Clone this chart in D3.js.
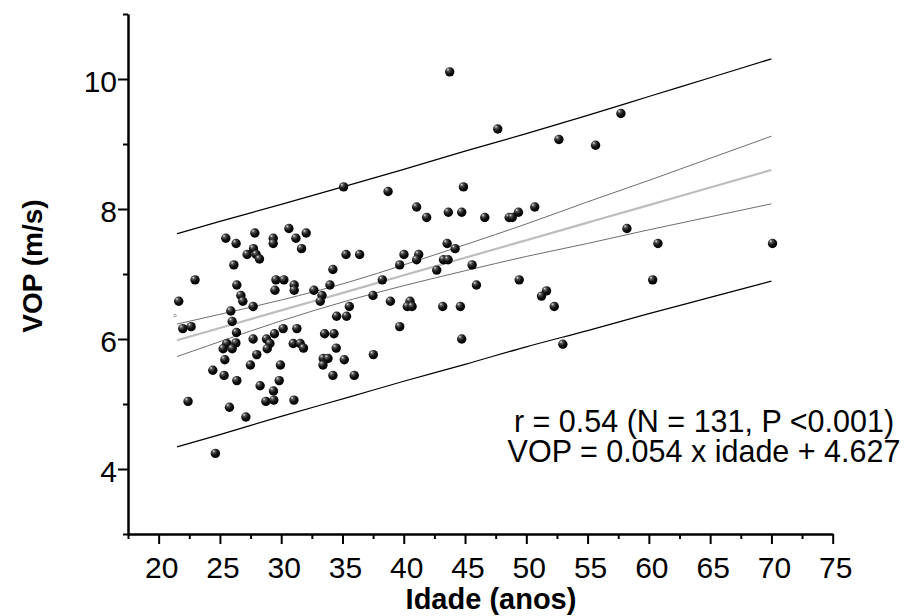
<!DOCTYPE html>
<html><head><meta charset="utf-8">
<script src="https://cdn.jsdelivr.net/npm/d3@7"></script>
<style>
body{margin:0;background:#fff;}
svg{display:block;font-family:"Liberation Sans",Arial,Helvetica,sans-serif;}
</style>
</head><body>
<svg id="chart" width="914" height="616"></svg>
<script>
// ---- data (age in years, VOP in m/s) ----
const ageValues = [35.09,38.72,25.48,26.32,27.85,29.35,29.35,30.63,31.20,32.04,27.74,31.66,27.22,27.96,28.23,26.14,35.29,36.40,34.22,22.97,
29.57,30.22,26.38,31.06,33.98,38.25,39.67,29.49,31.06,32.67,26.71,33.33,37.49,21.64,26.87,27.71,33.19,38.91,25.89,26.00,
21.97,22.65,34.52,35.33,35.56,26.35,31.28,30.16,33.54,34.31,29.45,27.71,39.67,25.56,26.30,25.26,26.00,28.80,29.08,28.86,
30.98,31.55,31.82,34.49,28.01,25.40,33.43,33.82,35.15,37.52,27.49,29.94,33.41,24.42,25.34,26.38,34.22,35.96,29.84,28.28,
29.37,22.40,28.75,29.40,31.04,25.78,27.12,24.63,43.75,47.67,52.66,55.65,57.72,44.87,41.05,41.87,43.64,44.73,46.61,48.60,
48.85,49.36,50.69,58.21,60.74,43.54,44.19,40.02,41.22,41.05,43.24,43.62,42.69,45.58,45.93,49.42,60.31,51.65,51.24,52.28,
40.51,40.29,40.68,43.18,44.62,44.73,52.98,70.09];
const vopValues = [8.34,8.27,7.55,7.47,7.63,7.55,7.47,7.70,7.55,7.63,7.39,7.39,7.30,7.30,7.23,7.14,7.30,7.30,7.07,6.91,
6.91,6.91,6.83,6.83,6.83,6.91,7.14,6.75,6.75,6.75,6.67,6.67,6.67,6.58,6.58,6.50,6.58,6.58,6.43,6.27,
6.16,6.19,6.35,6.35,6.50,6.10,6.16,6.16,6.08,6.08,6.08,6.00,6.19,5.93,5.94,5.85,5.85,6.00,5.93,5.85,
5.93,5.93,5.86,5.86,5.76,5.68,5.70,5.70,5.68,5.76,5.60,5.60,5.60,5.52,5.44,5.36,5.44,5.44,5.36,5.28,
5.20,5.04,5.04,5.06,5.06,4.95,4.80,4.24,10.11,9.23,9.07,8.98,9.47,8.34,8.03,7.87,7.95,7.95,7.87,7.87,
7.87,7.95,8.03,7.70,7.47,7.47,7.39,7.30,7.30,7.22,7.22,7.22,7.06,7.14,6.83,6.91,6.91,6.74,6.66,6.50,
6.58,6.50,6.50,6.50,6.50,6.00,5.92,7.47];
const tinyAge = [21.34];
const tinyVop = [6.36];

// regression line and bands read at these ages
const bandAge   = [21.5, 25, 30, 35.6, 40, 45, 50, 55, 60, 65, 70];
const fitVop    = [5.98, 6.17, 6.44, 6.74, 6.98, 7.25, 7.52, 7.79, 8.06, 8.33, 8.60];
const ciUpper   = [6.23, 6.38, 6.60, 6.88, 7.14, 7.45, 7.77, 8.11, 8.44, 8.78, 9.12];
const ciLower   = [5.73, 5.96, 6.28, 6.60, 6.82, 7.05, 7.27, 7.47, 7.68, 7.88, 8.08];
const predUpper = [7.62, 7.81, 8.07, 8.37, 8.61, 8.89, 9.16, 9.44, 9.73, 10.02, 10.31];
const predLower = [4.34, 4.53, 4.81, 5.11, 5.35, 5.61, 5.88, 6.13, 6.39, 6.64, 6.89];

const xMajorTicks = [20,25,30,35,40,45,50,55,60,65,70,75];
const xMinorTicks = [17.5,22.5,27.5,32.5,37.5,42.5,47.5,52.5,57.5,62.5,67.5,72.5];
const yMajorTicks = [4,6,8,10];
const yMinorTicks = [3,5,7,9,11];
const xTitle = "Idade (anos)";
const yTitle = "VOP (m/s)";
const statLines = ["r = 0.54 (N = 131, P <0.001)", "VOP = 0.054 x idade + 4.627"];

// ---- drawing ----
const svg = d3.select("#chart");
const x = d3.scaleLinear().domain([17.5, 75]).range([128, 832.7]);
const y = d3.scaleLinear().domain([3, 11]).range([534, 14]);

const defs = svg.append("defs");
const grad = defs.append("radialGradient").attr("id","ball")
  .attr("cx","40%").attr("cy","35%").attr("r","65%").attr("fx","30%").attr("fy","25%");
grad.append("stop").attr("offset","0%").attr("stop-color","#e8e8e8");
grad.append("stop").attr("offset","25%").attr("stop-color","#555");
grad.append("stop").attr("offset","60%").attr("stop-color","#111");
grad.append("stop").attr("offset","100%").attr("stop-color","#000");

// axes
const axisStyle = g => {
  g.select(".domain").attr("stroke","#000").attr("stroke-width",2);
  g.selectAll(".tick line").attr("stroke","#000").attr("stroke-width",2);
};
svg.append("g").attr("transform",`translate(0,${y(3)})`)
  .call(d3.axisBottom(x).tickValues(xMinorTicks).tickSize(5).tickSizeOuter(0).tickFormat(""))
  .call(axisStyle);
const gx = svg.append("g").attr("transform",`translate(0,${y(3)})`)
  .call(d3.axisBottom(x).tickValues(xMajorTicks).tickSize(10).tickSizeOuter(0).tickFormat(d3.format("d")))
  .call(axisStyle);
gx.selectAll(".tick text").attr("dy",null).attr("y",44).attr("dx",2.5)
  .attr("font-size",30).attr("fill","#000").attr("font-family","Liberation Sans, Arial, sans-serif");

svg.append("g").attr("transform",`translate(${x(17.5)},0)`)
  .call(d3.axisLeft(y).tickValues(yMinorTicks).tickSize(5).tickSizeOuter(0).tickFormat(""))
  .call(axisStyle);
const gy = svg.append("g").attr("transform",`translate(${x(17.5)},0)`)
  .call(d3.axisLeft(y).tickValues(yMajorTicks).tickSize(10).tickSizeOuter(0).tickFormat(d3.format("d")))
  .call(axisStyle);
gy.selectAll(".tick text").attr("dy",null).attr("y",12.5).attr("x",-11)
  .attr("font-size",30).attr("fill","#000").attr("font-family","Liberation Sans, Arial, sans-serif");

// regression lines
const mk = arr => d3.line().x((d,i)=>x(bandAge[i])).y(d=>y(d)).curve(d3.curveMonotoneX)(arr);
svg.append("path").attr("d",mk(predUpper)).attr("fill","none").attr("stroke","#000").attr("stroke-width",1.2);
svg.append("path").attr("d",mk(predLower)).attr("fill","none").attr("stroke","#000").attr("stroke-width",1.2);
svg.append("path").attr("d",mk(ciUpper)).attr("fill","none").attr("stroke","#6e6e6e").attr("stroke-width",1);
svg.append("path").attr("d",mk(ciLower)).attr("fill","none").attr("stroke","#6e6e6e").attr("stroke-width",1);
svg.append("path").attr("d",mk(fitVop)).attr("fill","none").attr("stroke","#bdbdbd").attr("stroke-width",2.2);

// points
svg.append("g").selectAll("circle").data(ageValues).join("circle")
  .attr("cx",d=>x(d)).attr("cy",(d,i)=>y(vopValues[i])).attr("r",4.7)
  .attr("fill","url(#ball)");
svg.append("g").selectAll("circle").data(tinyAge).join("circle")
  .attr("cx",d=>x(d)).attr("cy",(d,i)=>y(tinyVop[i])).attr("r",1.3)
  .attr("fill","none").attr("stroke","#888").attr("stroke-width",0.8);

// stats text
svg.append("g").selectAll("text").data(statLines).join("text")
  .attr("x",704).attr("y",(d,i)=>431.5+i*30).attr("text-anchor","middle")
  .attr("font-size",30.5).attr("fill","#000").text(d=>d);

// titles
svg.append("text").attr("x",491).attr("y",609).attr("text-anchor","middle")
  .attr("font-size",29).attr("font-weight","bold").attr("fill","#000").text(xTitle);
svg.append("text").attr("transform","translate(42,266) rotate(-90)").attr("text-anchor","middle")
  .attr("font-size",28).attr("font-weight","bold").attr("fill","#000").text(yTitle);
</script>
</body></html>
